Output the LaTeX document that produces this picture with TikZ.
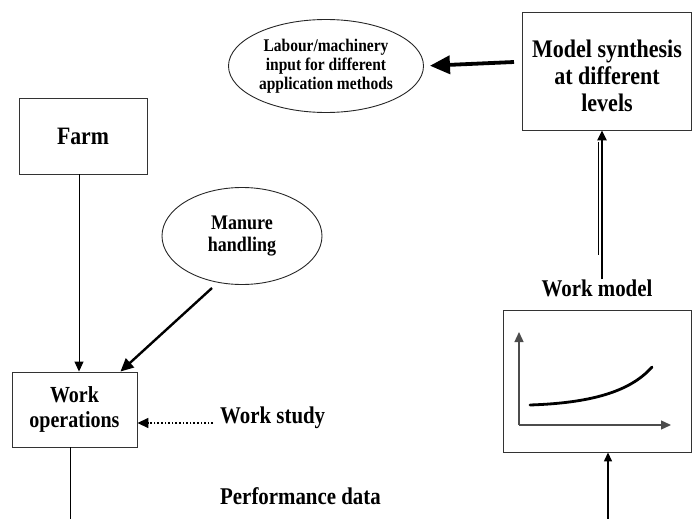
\documentclass[tikz,border=0pt]{standalone}
\usepackage{fontspec}
\setmainfont{Liberation Serif}[FakeStretch=0.87]
\usetikzlibrary{shapes.geometric,arrows.meta}
\tikzset{
  box/.style={draw=black!80, line width=0.9pt, rectangle, inner sep=0pt, align=center, font=\bfseries},
  oval/.style={draw=black!85, line width=0.9pt, ellipse, inner sep=0pt, align=center, font=\bfseries},
  lbl/.style={inner sep=0pt, align=center, font=\bfseries},
  thin arrow/.style={line width=0.9pt, -{Triangle[length=10pt,width=9pt]}},
  thick arrow/.style={line width=2.4pt, -{Triangle[length=13pt,width=12pt]}},
}
\begin{document}
\begin{tikzpicture}[x=1pt,y=-1pt]
\useasboundingbox (0,0) rectangle (693,519);
% nodes
\node[box, minimum width=169pt, minimum height=118pt] (MS) at (606.5,71) {};
\node[lbl, font=\fontsize{25.3}{27}\selectfont\bfseries] (MStext) at (607,76) {Model synthesis\\at different\\levels};
\node[oval, minimum width=195pt, minimum height=93pt, font=\fontsize{17.8}{19}\selectfont\bfseries] (LM) at (326,66) {Labour/machinery\\input for different\\application methods};
\node[box, minimum width=128pt, minimum height=76pt, font=\fontsize{25}{26}\selectfont\bfseries] (Farm) at (83,136) {Farm};
\node[oval, minimum width=160pt, minimum height=97pt, font=\fontsize{20.7}{22}\selectfont\bfseries] (MH) at (242,236) {Manure\\handling};
\node[box, minimum width=125pt, minimum height=75pt, font=\fontsize{23}{25}\selectfont\bfseries] (WO) at (74.5,409.5) {Work\\operations};
\node[lbl, font=\fontsize{24}{25}\selectfont\bfseries, anchor=west] (WS) at (220,418) {Work study};
\node[lbl, font=\fontsize{24}{25}\selectfont\bfseries, anchor=west] (PD) at (220,496) {Performance data};
\node[lbl, font=\fontsize{24}{25}\selectfont\bfseries] (WM) at (597,288) {Work model};
\node[box, minimum width=188pt, minimum height=142pt] (G) at (597,381) {};
% graph inside
\coordinate (O) at (519,425);
\coordinate (Ytop) at (519,332);
\coordinate (Xend) at (671,425);
\draw[black!70, line width=1.3pt, -{Triangle[length=10pt,width=9pt]}] (O) -- (Ytop);
\draw[black!70, line width=1.3pt, -{Triangle[length=10pt,width=9pt]}] (O) -- (Xend);
\draw[line width=2.8pt, line cap=round] (530,405) .. controls (590,403) and (630,392) .. (652,367);
% connectors
\draw[line width=3.8pt, -{Triangle[length=20pt,width=18pt]}, shorten >=6pt] (514,62) -- (LM.east);
\draw[thin arrow] ([xshift=-4pt]Farm.south) -- ([xshift=-4pt]Farm.south |- WO.north);
\coordinate (MHs) at (212,288);
\draw[thick arrow] (MHs) -- ([xshift=-17pt]WO.north east);
\draw[line width=1.6pt, dotted, -{Triangle[length=11pt,width=10pt]}] (WS.west) ++(-7pt,-5pt) coordinate (WSs) -- (WSs -| WO.east);
\coordinate (WObot) at (70,519);
\draw[line width=0.9pt] (WO.south -| WObot) -- (WObot);
\coordinate (Gbot) at (608,519);
\draw[line width=1.4pt, -{Triangle[length=9pt,width=8pt]}] (Gbot) -- (Gbot |- G.south);
\draw[line width=2.4pt, -{Triangle[length=10pt,width=9pt]}] ([xshift=5pt]WM.north) -- ([xshift=5pt]WM.north |- MS.south);
\draw[line width=0.7pt] (598,142) -- (598,255);
\end{tikzpicture}
\end{document}
